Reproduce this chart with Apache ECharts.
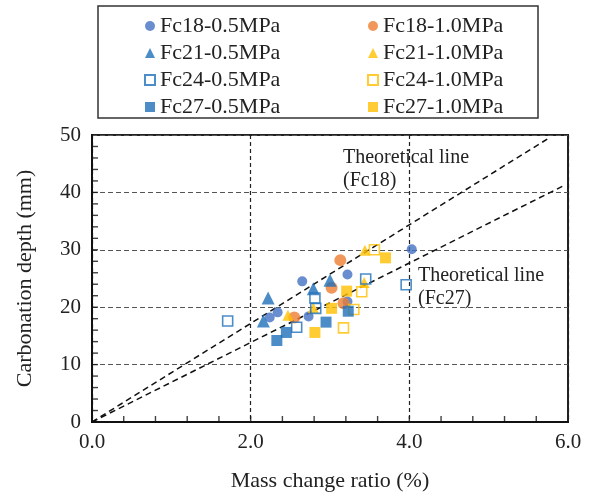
<!DOCTYPE html>
<html>
<head>
<meta charset="utf-8">
<script src="https://cdn.jsdelivr.net/npm/echarts@6/dist/echarts.min.js"></script>
<style>html,body{margin:0;padding:0;background:#fff;}#c{width:590px;height:497px;}</style>
</head>
<body>
<div id="c"></div>
<script>
// Data
var fc18_05 = [[2.24,18.2],[2.34,19.1],[2.65,24.5],[2.73,18.4],[3.22,25.7],[3.22,21.0],[4.03,30.1]];
var fc18_10 = [[2.55,18.2],[3.02,23.4],[3.13,28.2],[3.17,20.7]];
var fc21_05 = [[2.16,17.6],[2.22,21.6],[2.79,23.2],[3.00,24.7]];
var fc21_10 = [[2.47,18.6],[2.79,19.9],[3.43,24.3],[3.44,29.9]];
var fc24_05 = [[1.71,17.6],[2.58,16.5],[2.81,21.6],[2.82,19.8],[3.45,24.9],[3.96,23.9]];
var fc24_10 = [[3.17,16.4],[3.30,19.6],[3.40,22.7],[3.56,30.0]];
var fc27_05 = [[2.33,14.2],[2.45,15.6],[2.95,17.4],[3.23,19.3]];
var fc27_10 = [[2.81,15.6],[3.02,19.8],[3.21,22.8],[3.70,28.6]];
var theoFc18 = [[0,0],[5.74,49.3]];
var theoFc27 = [[0,0],[5.95,41.2]];
var seriesNames = ['Fc18-0.5MPa','Fc18-1.0MPa','Fc21-0.5MPa','Fc21-1.0MPa','Fc24-0.5MPa','Fc24-1.0MPa','Fc27-0.5MPa','Fc27-1.0MPa'];
var xTickMarks = [0.4,0.8,1.2,1.6,2.0,2.4,2.8,3.2,3.6,4.0,4.4,4.8,5.2,5.6];
var yTickMarks = [2,4,6,8,10,12,14,16,18,20,22,24,26,28,30,32,34,36,38,40,42,44,46,48];
var xTicks = {min:0, max:6, interval:2};
var yTicks = {min:0, max:50, interval:10};

var FONT = '"Liberation Serif","Times New Roman",serif';
var BLUE_C = '#4472C4', BLUE = '#1F70BA', ORANGE = '#ED7D31', YELLOW = '#FFC000';

function scat(name, data, symbol, size, color, empty) {
  return {
    name: name, type: 'scatter', data: data, symbol: symbol, symbolSize: size,
    itemStyle: empty ? {color: 'rgba(255,255,255,0)', borderColor: color, borderWidth: 1.6} : {color: color},
    emphasis: {disabled: true}
  };
}
function theo(data) {
  return {type: 'line', data: data, symbol: 'none', silent: true,
    lineStyle: {color: '#111', width: 1.5, type: [6, 4]}, z: 1};
}
// minor tick marks drawn as thin rect symbols on the axes
function tickMarks(values, isX) {
  return {
    type: 'scatter', silent: true, clip: false, z: 6,
    data: values.map(function (v) { return isX ? [v, xTicks.min * 0 + yTicks.min] : [xTicks.min, v]; }),
    symbol: 'rect',
    symbolSize: isX ? [1.4, 6] : [6, 1.4],
    symbolOffset: isX ? [0, -3] : [3, 0],
    itemStyle: {color: '#111'},
    emphasis: {disabled: true}
  };
}

var chart = echarts.init(document.getElementById('c'), null, {renderer: 'canvas'});
var labelStyle = {fontFamily: FONT, fontSize: 21, color: '#222'};
var nameStyle = {fontFamily: FONT, fontSize: 22, color: '#222'};
chart.setOption({
  animation: false,
  grid: {left: 92, right: 22, top: 135, bottom: 74, show: true, borderColor: '#222', borderWidth: 2, backgroundColor: 'transparent'},
  xAxis: {
    type: 'value', min: xTicks.min, max: xTicks.max, interval: xTicks.interval,
    name: 'Mass change ratio (%)', nameLocation: 'middle', nameGap: 48, nameTextStyle: nameStyle,
    axisLine: {show: true, lineStyle: {color: '#111', width: 2}},
    axisTick: {show: false},
    axisLabel: Object.assign({}, labelStyle, {margin: 10, formatter: function(v){return v.toFixed(1);}}),
    splitLine: {show: true, lineStyle: {color: '#222', width: 1.2, type: [4, 3]}}
  },
  yAxis: {
    type: 'value', min: yTicks.min, max: yTicks.max, interval: yTicks.interval,
    name: 'Carbonation depth (mm)', nameLocation: 'middle', nameGap: 56, nameRotate: 90, nameTextStyle: nameStyle,
    axisLine: {show: true, lineStyle: {color: '#111', width: 2}},
    axisTick: {show: false},
    axisLabel: Object.assign({}, labelStyle, {margin: 11}),
    splitLine: {show: true, lineStyle: {color: '#555', width: 1.2, type: [5, 3]}}
  },
  legend: [
    {data: [seriesNames[0], seriesNames[2], seriesNames[4], seriesNames[6]], orient: 'vertical',
     left: 139, top: 10, itemWidth: 10, itemHeight: 10, itemGap: 5,
     textStyle: {fontFamily: FONT, fontSize: 22, lineHeight: 22, color: '#222'}, selectedMode: false},
    {data: [seriesNames[1], seriesNames[3], seriesNames[5], seriesNames[7]], orient: 'vertical',
     left: 362, top: 10, itemWidth: 10, itemHeight: 10, itemGap: 5,
     textStyle: {fontFamily: FONT, fontSize: 22, lineHeight: 22, color: '#222'}, selectedMode: false}
  ],
  graphic: [
    {type: 'rect', shape: {x: 98, y: 6, width: 440, height: 112}, style: {fill: 'none', stroke: '#333', lineWidth: 1.5}, silent: true},
    {type: 'text', left: 343, top: 146, style: {text: 'Theoretical line\n(Fc18)', font: '20px ' + FONT, fill: '#222', lineHeight: 23}, silent: true},
    {type: 'text', left: 418, top: 264, style: {text: 'Theoretical line\n(Fc27)', font: '20px ' + FONT, fill: '#222', lineHeight: 23}, silent: true}
  ],
  series: [
    tickMarks(xTickMarks, true), tickMarks(yTickMarks, false),
    theo(theoFc18), theo(theoFc27),
    scat(seriesNames[0], fc18_05, 'circle', 10, BLUE_C),
    scat(seriesNames[1], fc18_10, 'circle', 12, ORANGE),
    scat(seriesNames[2], fc21_05, 'triangle', 13, BLUE),
    scat(seriesNames[3], fc21_10, 'triangle', 11, YELLOW),
    scat(seriesNames[4], fc24_05, 'rect', 10, BLUE, true),
    scat(seriesNames[5], fc24_10, 'rect', 10, YELLOW, true),
    scat(seriesNames[6], fc27_05, 'rect', 11, BLUE),
    scat(seriesNames[7], fc27_10, 'rect', 11, YELLOW)
  ]
});
</script>
</body>
</html>
